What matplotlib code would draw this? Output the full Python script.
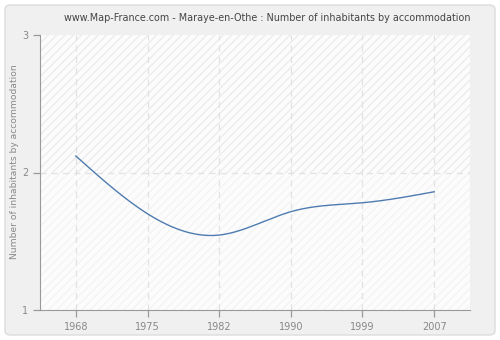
import numpy as np
import matplotlib
matplotlib.use("Agg")
import matplotlib.pyplot as plt
from matplotlib.patches import FancyBboxPatch, Rectangle

years = ["1968", "1975", "1982", "1990", "1999", "2007"]
values = [2.12, 1.70, 1.545, 1.715, 1.78, 1.86]
yticks = [1, 2, 3]

def natural_spline(x, y, xs):
    x = np.asarray(x, float); y = np.asarray(y, float)
    n = len(x)
    h = np.diff(x)
    A = np.zeros((n, n)); b = np.zeros(n)
    A[0, 0] = 1; A[-1, -1] = 1
    for i in range(1, n - 1):
        A[i, i - 1] = h[i - 1]
        A[i, i] = 2 * (h[i - 1] + h[i])
        A[i, i + 1] = h[i]
        b[i] = 3 * ((y[i + 1] - y[i]) / h[i] - (y[i] - y[i - 1]) / h[i - 1])
    c = np.linalg.solve(A, b)
    out = np.empty_like(xs)
    for k, xv in enumerate(xs):
        i = min(max(np.searchsorted(x, xv) - 1, 0), n - 2)
        dx = xv - x[i]
        bi = (y[i + 1] - y[i]) / h[i] - h[i] * (2 * c[i] + c[i + 1]) / 3
        di = (c[i + 1] - c[i]) / (3 * h[i])
        out[k] = y[i] + bi * dx + c[i] * dx ** 2 + di * dx ** 3
    return out

fig = plt.figure(figsize=(5, 3.4), dpi=100)
fig.patch.set_facecolor("white")
bg = FancyBboxPatch((5 / 500, 5 / 340), 490 / 500, 330 / 340,
                    boxstyle="round,pad=0,rounding_size=0.012",
                    transform=fig.transFigure, facecolor="#f0f0f0",
                    edgecolor="#dcdcdc", linewidth=1.0, zorder=-10)
fig.patches.append(bg)

ax = fig.add_axes([40 / 500, 30 / 340, 430 / 500, 275 / 340], zorder=1)
ax.set_facecolor("#fdfdfd")
xi = np.arange(len(years))
ax.set_xlim(-0.5, len(years) - 0.5)
ax.set_ylim(1, 3)

ax.add_patch(Rectangle((-0.5, 2), len(years), 1, facecolor="#fcfcfc",
                       edgecolor="#ececec", hatch="////", linewidth=0, zorder=0))
ax.add_patch(Rectangle((-0.5, 1), len(years), 1, facecolor="#fcfcfc",
                       edgecolor="#f4f4f4", hatch="////", linewidth=0, zorder=0))

for x in xi:
    ax.axvline(x, color="#e2e2e2", linestyle=(0, (5, 4)), linewidth=0.9, zorder=1)
ax.axhline(2, color="#e2e2e2", linestyle=(0, (5, 4)), linewidth=0.9, zorder=1)

xs = np.linspace(0, len(years) - 1, 400)
ax.plot(xs, natural_spline(xi, values, xs), color="#4f7cb0", linewidth=1.0, zorder=3)

ax.set_xticks(xi)
ax.set_xticklabels(years)
ax.set_yticks(yticks)
for s in ["top", "right"]:
    ax.spines[s].set_visible(False)
for s in ["left", "bottom"]:
    ax.spines[s].set_color("#999999")
ax.tick_params(colors="#999999", labelcolor="#888888", labelsize=7, length=5, width=0.9)
ax.set_ylabel("Number of inhabitants by accommodation", color="#888888", fontsize=6.6)
ax.yaxis.set_label_coords(-21 / 430, 0.54)

fig.text(470 / 500, 1 - 18 / 340,
         "www.Map-France.com - Maraye-en-Othe : Number of inhabitants by accommodation",
         ha="right", va="center", fontsize=6.9, color="#444444")

fig.savefig("out.png", dpi=100, facecolor=fig.get_facecolor())
